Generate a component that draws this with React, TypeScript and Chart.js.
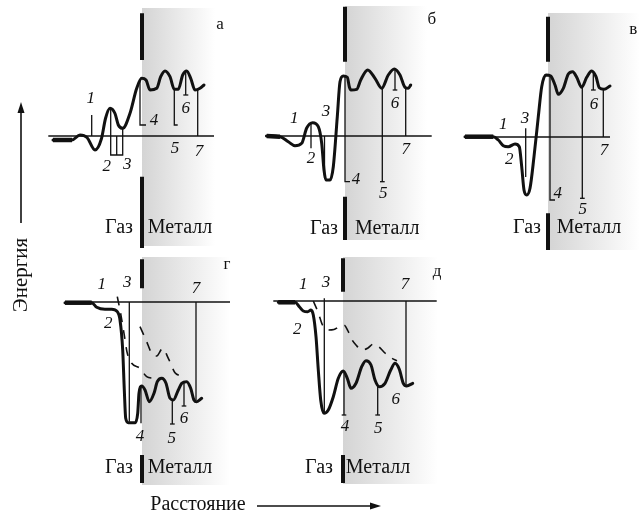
import { useEffect, useRef } from "react";
import { Chart, registerables } from "chart.js";

Chart.register(...registerables);

type Pt = [number, number];
type Label = [string, number, number];

const WIDTH = 644;
const HEIGHT = 519;

// Energy profiles: x = distance from the gas/metal boundary, y = energy above the zero level
const profileA: Pt[] = [
  [-89, -4], [-70, -4], [-62, 1], [-55, -1.5], [-47, -14], [-40.5, -2.5], [-36.5, 17.5], [-32, 27.7],
  [-27, 22.5], [-23.7, 11], [-19.3, 7.7], [-12, 22.7], [-5.3, 47.7], [-0.3, 57.7], [4, 56], [8, 46],
  [14.7, 47.7], [18.7, 59.3], [23, 65], [28, 59.3], [32.3, 46.7], [36.3, 46.7], [40.7, 61], [44.7, 65],
  [48.7, 57.7], [53, 46], [58, 47.7], [62, 51],
];
const profileB: Pt[] = [
  [-78.3, 0], [-65, -0.7], [-56.7, -5.7], [-50, -9.7], [-43.3, -7.3], [-38.3, 8], [-32.3, 13.3],
  [-26.7, 9.3], [-23.3, -7.3], [-21, -34], [-19, -44], [-15, -44], [-11.7, -30.7], [-7.7, 19.3],
  [-5, 54.3], [-1.7, 60], [2.3, 58.7], [4.3, 49.3], [6, 46], [11.7, 46.7], [15.7, 56], [22.7, 66],
  [30, 57.7], [36.7, 47.7], [43.3, 61], [49.3, 67], [55, 61], [60, 48.7], [63.3, 47.7], [65.7, 51],
];
const profileV: Pt[] = [
  [-83, 0.3], [-54.7, 0.3], [-49.7, -3], [-44.7, -8.7], [-39.7, -9.7], [-33, -7], [-28.7, -9.7],
  [-26.3, -29.7], [-24, -53], [-21.3, -58], [-18, -51.3], [-14, -19.7], [-9.7, 20.3], [-6.3, 50.3],
  [-2, 62], [2.7, 61], [7, 52], [10.3, 42.7], [15.3, 48.7], [20.3, 63], [24.7, 65.3], [28.7, 59.7],
  [33.7, 49.7], [38.7, 59.7], [43.7, 66], [48, 60.3], [51.3, 49.3], [56, 47.7], [62, 51],
];
const profileG: Pt[] = [
  [-77, -0.7], [-50.3, -0.7], [-45.3, -5.3], [-37, -7.3], [-30.3, -7.3], [-24.7, -9.7], [-22, -18],
  [-19.3, -48], [-17.7, -88], [-16.3, -116.3], [-13.7, -120.7], [-7, -120.7], [-4.3, -111.3],
  [-3, -91.3], [-0.3, -84], [3, -88], [7.3, -99.7], [12, -91.3], [15.3, -79.7], [19.7, -76.3],
  [24, -81.3], [28, -96.3], [31.3, -98], [36.3, -88], [39.7, -81.3], [44.7, -79.7], [48.7, -86.3],
  [52, -98], [54.7, -99.7], [59.7, -96.3],
];
const profileD: Pt[] = [
  [-64.7, -1.3], [-48, -1.3], [-43.7, -5.7], [-39.7, -10], [-35.3, -10.7], [-32, -9], [-29.7, -14],
  [-27, -35.7], [-24.7, -69], [-22.3, -99], [-19, -112.3], [-14.7, -109], [-9.7, -95.7], [-4.7, -77.3],
  [0.3, -70], [4.3, -77.3], [8, -87.3], [13, -82.3], [18.7, -65.7], [23, -59.7], [28, -64], [32, -79],
  [36.3, -85.7], [42, -82.3], [47.7, -69], [52, -62.3], [56.3, -68.3], [60.3, -82.3], [63.7, -85],
  [69.7, -82.3],
];

// Dashed profiles
const dashedG: Pt[][] = [
  [[-24.7, 5.3], [-22, -8], [-18, -31.3], [-14.7, -51.3], [-10.3, -61.3], [-2, -66.3], [4.7, -74.7], [11.3, -76.3]],
  [[-2, -24.7], [4, -38], [9.7, -51.3], [14.7, -54], [20.7, -46.3], [26.3, -56.3], [33, -70.7], [39.7, -74]],
];
const dashedD: Pt[][] = [
  [[-29.7, 0], [-25, -11], [-20.5, -24], [-15, -29], [-9, -28.5], [-4.5, -26], [1, -24], [5, -30], [8, -37],
   [13, -44], [19, -49], [25, -47], [30.3, -43], [36, -46], [42, -52], [49, -57.3], [54, -59.7]],
];

// Level markers (polylines)
const markersA: Pt[][] = [
  [[-50.3, 21], [-50.3, 0]],
  [[-31.3, 27.7], [-31.3, -19], [-19.3, -19], [-19.3, 7.7]],
  [[-25.3, 0], [-25.3, -19]],
  [[-2, 56], [-2, 11], [4, 11]],
  [[32.3, 46.7], [32.3, 11], [35.7, 11]],
  [[43.7, 65], [43.7, 41]], [[41.3, 41], [46.3, 41]],
  [[55.7, 46], [55.7, 0]],
];
const markersB: Pt[][] = [
  [[-34, 13.3], [-34, -12.3]],
  [[-20.5, 0], [-20.5, -42]],
  [[0, 59.3], [0, -45.7], [5, -45.7]],
  [[37.3, 48.7], [37.3, -45.7]], [[35, -45.7], [39.7, -45.7]],
  [[50, 67], [50, 46]], [[47.7, 46], [52.3, 46]],
  [[60.7, 49.3], [60.7, 0]],
];
const markersV: Pt[][] = [
  [[-22.3, 8.7], [-22.3, -40]],
  [[2, 62], [2, -63], [7, -63]],
  [[34.3, 49.7], [34.3, -61.3]], [[32, -61.3], [36.7, -61.3]],
  [[45.3, 66], [45.3, 47]], [[43, 47], [47.7, 47]],
  [[55.3, 47], [55.3, 0]],
];
const markersG: Pt[][] = [
  [[-12.7, 0], [-12.7, -119.7]],
  [[-1, -84], [-1, -121.3]],
  [[30.3, -98], [30.3, -122]], [[28, -122], [32.7, -122]],
  [[42, -79.7], [42, -104]], [[39.7, -104], [44.3, -104]],
  [[54, 0], [54, -98]],
];
const markersD: Pt[][] = [
  [[-18.7, 2.7], [-18.7, -112.3]],
  [[1, -70], [1, -114]], [[-1.3, -114], [3.3, -114]],
  [[34.7, -84], [34.7, -114]], [[32.3, -114], [37, -114]],
  [[63, 0], [63, -84]],
];

// Marker numbers
const numbersA: Label[] = [["1", -51.3, 37.7], ["2", -35.3, -30.7], ["3", -14.7, -29], ["4", 12, 15.3], ["5", 33, -12.3], ["6", 43.7, 27.7], ["7", 57, -15.7]];
const numbersB: Label[] = [["1", -50.7, 17.7], ["2", -34, -22.3], ["3", -19, 24.3], ["4", 11, -44], ["5", 38.3, -57.3], ["6", 50, 32.7], ["7", 60.7, -14]];
const numbersV: Label[] = [["1", -44.7, 12], ["2", -38.7, -23], ["3", -23, 18.7], ["4", 9.7, -56.3], ["5", 34.7, -72.3], ["6", 46, 32], ["7", 56, -13.7]];
const numbersG: Label[] = [["1", -40.3, 17], ["3", -14.7, 19.3], ["2", -33.7, -21.3], ["4", -2, -134.7], ["5", 29.7, -136.3], ["6", 42, -116.3], ["7", 54, 13.7]];
const numbersD: Label[] = [["1", -39.7, 16], ["3", -17, 18.3], ["2", -45.7, -28.3], ["4", 2, -125.7], ["5", 35.3, -127.3], ["6", 52.7, -98.3], ["7", 62, 16]];

const panelLetters = ["а", "б", "в", "г", "д"];
const gasText = "Газ";
const metalText = "Металл";
const energyTitle = "Энергия";
const distanceTitle = "Расстояние";

interface Panel {
  origin: Pt; // boundary x, zero level y (page)
  axis: Pt; // zero line span
  barTop: Pt;
  barBottom: Pt;
  shade: [number, number, number]; // top, bottom, width
  letterAt: Pt;
  gasAt: Pt;
  metalAt: Pt;
  profile: Pt[];
  dashed: Pt[][];
  markers: Pt[][];
  numbers: Label[];
}

const panels: Panel[] = [
  { origin: [142, 136], axis: [-93.7, 72], barTop: [122.7, 76], barBottom: [-40.7, -112], shade: [128, -110, 73],
    letterAt: [78, 111], gasAt: [-23, -92], metalAt: [38, -92], profile: profileA, dashed: [], markers: markersA, numbers: numbersA },
  { origin: [345, 136], axis: [-80, 86.7], barTop: [129.3, 74.3], barBottom: [-60.7, -104], shade: [130, -104, 82],
    letterAt: [86.7, 116], gasAt: [-21, -92.3], metalAt: [42.3, -92.3], profile: profileB, dashed: [], markers: markersB, numbers: numbersB },
  { origin: [548, 137], axis: [-83, 62], barTop: [120.3, 75.3], barBottom: [-76.3, -113], shade: [124, -113, 92],
    letterAt: [85.3, 107], gasAt: [-21, -91], metalAt: [41, -91], profile: profileV, dashed: [], markers: markersV, numbers: numbersV },
  { origin: [142, 302], axis: [-77, 88], barTop: [42.7, 13.7], barBottom: [-153, -181], shade: [45, -183, 88],
    letterAt: [85, 37], gasAt: [-23, -166], metalAt: [38, -166], profile: profileG, dashed: dashedG, markers: markersG, numbers: numbersG },
  { origin: [343, 301], axis: [-69.7, 93.7], barTop: [42.7, 9.3], barBottom: [-154, -182], shade: [44, -183, 95],
    letterAt: [94, 29], gasAt: [-24, -167], metalAt: [35, -167], profile: profileD, dashed: dashedD, markers: markersD, numbers: numbersD },
];

const INK = "#111111";
const SERIF = '"Liberation Serif", "Times New Roman", serif';

function place(p: Panel, pts: Pt[]) {
  return pts.map(([x, y]) => ({ x: p.origin[0] + x, y: p.origin[1] - y }));
}

function line(data: { x: number; y: number }[], width: number, extra: Record<string, unknown> = {}) {
  return {
    data,
    borderColor: INK,
    borderWidth: width,
    pointRadius: 0,
    fill: false,
    tension: 0,
    clip: false as const,
    borderCapStyle: "butt" as const,
    ...extra,
  };
}

function buildDatasets() {
  const sets: any[] = [];
  panels.forEach((p) => {
    sets.push(line(place(p, [[p.axis[0], 0], [p.axis[1], 0]]), 1.6));
    sets.push(line(place(p, [[0, p.barTop[0]], [0, p.barTop[1]]]), 4));
    sets.push(line(place(p, [[0, p.barBottom[0]], [0, p.barBottom[1]]]), 4));
    p.markers.forEach((m) => sets.push(line(place(p, m), 1.3)));
    p.dashed.forEach((d) => sets.push(line(place(p, d), 1.6, { borderDash: [9, 8], cubicInterpolationMode: "monotone" })));
    sets.push(line(place(p, p.profile.slice(0, 2)), 4.5));
    sets.push(line(place(p, p.profile), 3, { cubicInterpolationMode: "monotone", borderCapStyle: "round", borderJoinStyle: "round" }));
  });
  return sets;
}

const decorPlugin = {
  id: "decor",
  beforeDatasetsDraw(chart: Chart) {
    const { ctx } = chart;
    const xs = chart.scales.x;
    const ys = chart.scales.y;
    panels.forEach((p) => {
      const left = xs.getPixelForValue(p.origin[0]);
      const right = xs.getPixelForValue(p.origin[0] + p.shade[2]);
      const top = ys.getPixelForValue(p.origin[1] - p.shade[0]);
      const bottom = ys.getPixelForValue(p.origin[1] - p.shade[1]);
      const g = ctx.createLinearGradient(left, 0, right, 0);
      g.addColorStop(0, "rgb(212,212,212)");
      g.addColorStop(1, "rgb(255,255,255)");
      ctx.save();
      ctx.fillStyle = g;
      ctx.fillRect(left, top, right - left, bottom - top);
      ctx.restore();
    });
  },
  afterDatasetsDraw(chart: Chart) {
    const { ctx } = chart;
    const xs = chart.scales.x;
    const ys = chart.scales.y;
    const at = (p: Panel, x: number, y: number): Pt => [
      xs.getPixelForValue(p.origin[0] + x),
      ys.getPixelForValue(p.origin[1] - y),
    ];
    ctx.save();
    ctx.fillStyle = INK;
    ctx.textAlign = "center";
    ctx.textBaseline = "middle";
    panels.forEach((p, i) => {
      ctx.font = `italic 17px ${SERIF}`;
      p.numbers.forEach(([t, x, y]) => {
        const [px, py] = at(p, x, y);
        ctx.fillText(t, px, py);
      });
      ctx.font = `17px ${SERIF}`;
      const [lx, ly] = at(p, p.letterAt[0], p.letterAt[1]);
      ctx.fillText(panelLetters[i], lx, ly);
      ctx.font = `20px ${SERIF}`;
      const [gx, gy] = at(p, p.gasAt[0], p.gasAt[1]);
      ctx.fillText(gasText, gx, gy);
      const [mx, my] = at(p, p.metalAt[0], p.metalAt[1]);
      ctx.fillText(metalText, mx, my);
    });

    // Axis titles with arrows
    ctx.font = `21px ${SERIF}`;
    ctx.save();
    ctx.translate(xs.getPixelForValue(21), ys.getPixelForValue(275));
    ctx.rotate(-Math.PI / 2);
    ctx.fillText(energyTitle, 0, 0);
    ctx.restore();
    ctx.font = `20px ${SERIF}`;
    ctx.fillText(distanceTitle, xs.getPixelForValue(198), ys.getPixelForValue(505));

    ctx.strokeStyle = INK;
    ctx.lineWidth = 1.6;
    const ax = xs.getPixelForValue(21);
    const ay0 = ys.getPixelForValue(223);
    const ay1 = ys.getPixelForValue(102);
    ctx.beginPath();
    ctx.moveTo(ax, ay0);
    ctx.lineTo(ax, ay1 + 8);
    ctx.stroke();
    ctx.beginPath();
    ctx.moveTo(ax, ay1);
    ctx.lineTo(ax - 3.5, ay1 + 11);
    ctx.lineTo(ax + 3.5, ay1 + 11);
    ctx.closePath();
    ctx.fill();

    const bx0 = xs.getPixelForValue(257);
    const bx1 = xs.getPixelForValue(381);
    const by = ys.getPixelForValue(506);
    ctx.beginPath();
    ctx.moveTo(bx0, by);
    ctx.lineTo(bx1 - 8, by);
    ctx.stroke();
    ctx.beginPath();
    ctx.moveTo(bx1, by);
    ctx.lineTo(bx1 - 11, by - 3.5);
    ctx.lineTo(bx1 - 11, by + 3.5);
    ctx.closePath();
    ctx.fill();
    ctx.restore();
  },
};

export default function App() {
  const ref = useRef<HTMLCanvasElement>(null);
  useEffect(() => {
    if (!ref.current) return;
    const chart = new Chart(ref.current, {
      type: "line",
      data: { datasets: buildDatasets() },
      options: {
        responsive: false,
        maintainAspectRatio: false,
        animation: false,
        layout: { padding: 0 },
        scales: {
          x: { type: "linear", min: 0, max: WIDTH, display: false },
          y: { type: "linear", min: 0, max: HEIGHT, reverse: true, display: false },
        },
        plugins: { legend: { display: false }, tooltip: { enabled: false } },
        events: [],
      },
      plugins: [decorPlugin],
    });
    return () => chart.destroy();
  }, []);
  return (
    <div style={{ position: "fixed", left: 0, top: 0, width: WIDTH, height: HEIGHT, background: "#fff" }}>
      <canvas ref={ref} width={WIDTH} height={HEIGHT} style={{ display: "block", width: WIDTH, height: HEIGHT }} />
    </div>
  );
}
